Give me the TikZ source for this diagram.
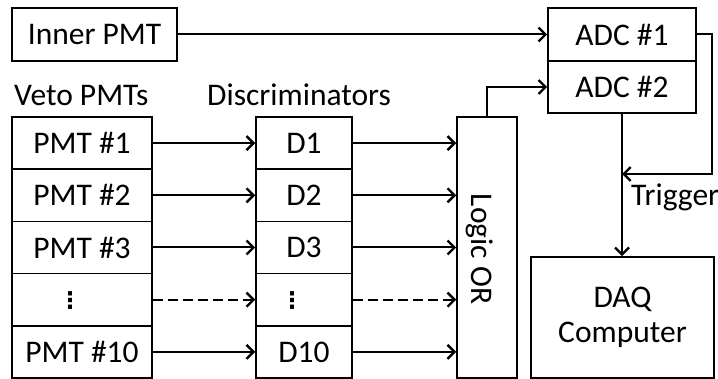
\documentclass[tikz,border=0pt]{standalone}
\usepackage{fontspec}
\setmainfont{Carlito}
\newfontfamily\dvfont{DejaVu Sans}
\usetikzlibrary{arrows.meta}
\begin{document}
\begin{tikzpicture}[x=1pt,y=-1pt,
  every node/.style={font=\fontsize{31.5}{37}\selectfont},
  box/.style={draw, line width=1.6pt, rectangle, inner sep=0pt},
  lbl/.style={inner sep=0pt, anchor=base west},
  conn/.style={line width=2pt, -{Straight Barb[length=7pt,width=14pt,line width=2.4pt]}},
  dconn/.style={conn, dash pattern=on 10pt off 5pt},
  vdot/.style={font=\dvfont\bfseries\fontsize{23}{26}\selectfont, inner sep=0pt}]
\useasboundingbox (0,0) rectangle (718,379);
% Inner PMT
\node[box, minimum width=165pt, minimum height=53pt] (inner) at (94.5,34.5) {Inner PMT};
% ADCs
\node[box, minimum width=148pt, minimum height=53pt] (adc1) at (622,34.5) {ADC \#1};
\node[box, minimum width=148pt, minimum height=52pt] (adc2) at (622,87) {ADC \#2};
% labels
\node[lbl] (veto) at (14,106) {Veto PMTs};
\node[lbl] (disc) at (207,106) {Discriminators};
% PMT column
\foreach \i/\t/\yy in {1/PMT \#1/143.1, 2/PMT \#2/195.3, 3/PMT \#3/247.5, 5/PMT \#10/351.9}{
  \node[box, minimum width=140pt, minimum height=52.2pt] (p\i) at (82,\yy) {\t};
}
\node[box, minimum width=140pt, minimum height=52.2pt] (p4) at (82,299.7) {};
\node[vdot] (p4d) at (70,300.5) {⋮};
% D column
\foreach \i/\t/\yy in {1/D1/143.1, 2/D2/195.3, 3/D3/247.5, 5/D10/351.9}{
  \node[box, minimum width=96pt, minimum height=52.2pt] (d\i) at (304,\yy) {\t};
}
\node[box, minimum width=96pt, minimum height=52.2pt] (d4) at (304,299.7) {};
\node[vdot] (d4d) at (292,300.5) {⋮};
% Logic OR
\node[box, minimum width=60pt, minimum height=261pt] (or) at (487,247.5) {};
\node[rotate=-90, inner sep=0pt] (ortext) at (480,249) {Logic OR};
% DAQ
\node[box, minimum width=183pt, minimum height=121pt, align=center] (daq) at (622.5,317.5) {DAQ\\[-2pt]Computer};
% Trigger label
\node[lbl] (trig) at (631,206) {Trigger};
% connectors
\draw[conn] (inner.east) -- (adc1.west);
\foreach \i in {1,2,3,5}{
  \draw[conn] (p\i.east) -- (d\i.west);
  \draw[conn] (d\i.east) -- (or.west |- d\i.east);
}
\draw[dconn] (p4.east) -- (d4.west);
\draw[dconn] (d4.east) -- (or.west |- d4.east);
\draw[conn] (or.north) |- (adc2.west);
\coordinate (tr) at (712,174);
\draw[conn] (adc1.east) -| (tr) -- (adc2.south |- tr);
\draw[conn] (adc2.south) -- (adc2.south |- daq.north);
\end{tikzpicture}
\end{document}
